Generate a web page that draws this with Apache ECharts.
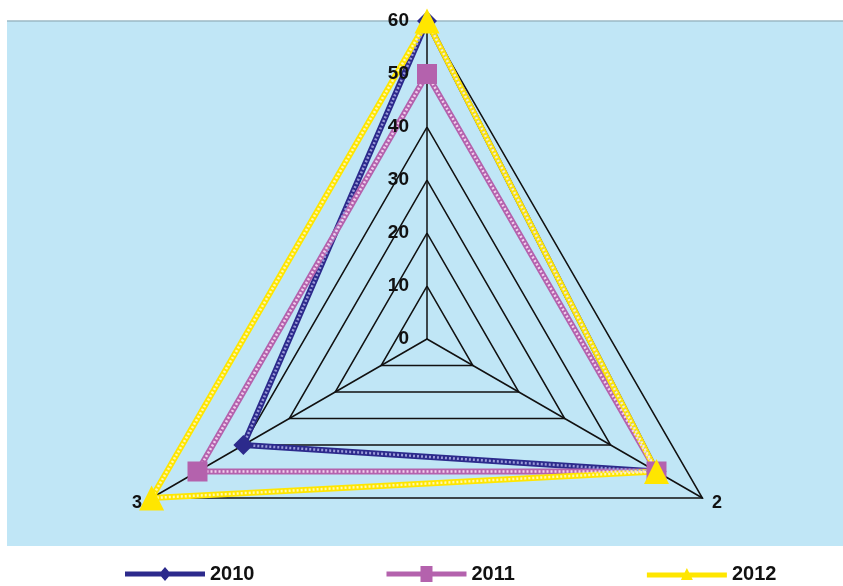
<!DOCTYPE html>
<html>
<head>
<meta charset="utf-8">
<script src="https://cdn.jsdelivr.net/npm/echarts@6/dist/echarts.min.js"></script>
<style>
  html, body { margin: 0; padding: 0; background: #ffffff; }
  #chart { width: 843px; height: 586px; }
</style>
</head>
<body>
<div id="chart"></div>
<script>
// Radar axes (categories) and tick labels
const categories = ['1', '2', '3'];
const axisMax = 60;
const tickStep = 10;

// Series values, one per category in the order above
const years = ['2010', '2011', '2012'];
const values2010 = [60, 50, 40];
const values2011 = [50, 50, 50];
const values2012 = [60, 50, 60];

// Axis 1 at the top, then counter-clockwise: axis 3 bottom-left, axis 2 bottom-right
const axisOrder = [0, 2, 1];
const reorder = arr => axisOrder.map(i => arr[i]);

// Legend icons: a band with the series marker in its middle (80 x 16 box)
const BAND = 'M0 5.5 L80 5.5 L80 10.5 L0 10.5 Z ';
const legendIcons = {
  diamond: 'path://' + BAND + 'M40 1 L46 8 L40 15 L34 8 Z',
  rect: 'path://' + BAND + 'M34 0 L46 0 L46 16 L34 16 Z',
  triangle: 'path://' + BAND + 'M40 1 L46 13 L34 13 Z'
};

const styles = [
  { name: years[0], values: values2010, base: '#2c2a8c', dash: '#9a9ad8', symbol: 'diamond', size: 20 },
  { name: years[1], values: values2011, base: '#b462ad', dash: '#f3cfee', symbol: 'rect', size: 20 },
  { name: years[2], values: values2012, base: '#ffe600', dash: '#fff7b0', symbol: 'triangle', size: 25 }
];

const center = [427, 339];
const radius = 318;
const labelFont = { color: '#111', fontFamily: 'Liberation Sans', fontWeight: 'bold' };

// grid radar: rings, spokes and the axis names
const gridIndicator = axisOrder.map(i => ({ name: categories[i], min: 0, max: axisMax }));
// label radar: same geometry, only the tick labels on the top axis, drawn above the series
const labelIndicator = axisOrder.map((i, k) => ({
  name: categories[i], min: 0, max: axisMax,
  axisLabel: { show: k === 0 }
}));

const series = [];
styles.forEach(s => {
  // solid coloured band
  series.push({
    type: 'radar',
    radarIndex: 0,
    name: s.name,
    symbol: 'none',
    lineStyle: { color: s.base, width: 6 },
    itemStyle: { color: s.base },
    z: 3,
    data: [{ value: reorder(s.values), name: s.name }]
  });
  // lighter chain pattern on top, with the markers
  series.push({
    type: 'radar',
    radarIndex: 0,
    name: s.name,
    symbol: s.symbol,
    symbolSize: s.size,
    lineStyle: { color: s.dash, width: 2.5, type: [2, 2] },
    itemStyle: { color: s.base, borderWidth: 0 },
    z: 4,
    data: [{ value: reorder(s.values), name: s.name }]
  });
});

const chart = echarts.init(document.getElementById('chart'));
chart.setOption({
  animation: false,
  backgroundColor: '#ffffff',
  graphic: [
    {
      type: 'rect', z: -10, silent: true,
      shape: { x: 7, y: 21, width: 836, height: 525 },
      style: { fill: '#c0e6f6' }
    },
    {
      type: 'line', z: -9, silent: true,
      shape: { x1: 7, y1: 21, x2: 843, y2: 21 },
      style: { stroke: '#9bb8c4', lineWidth: 1.5 }
    }
  ],
  legend: {
    bottom: 2,
    left: 125,
    padding: 0,
    itemWidth: 80,
    itemHeight: 16,
    itemGap: 132,
    data: styles.map(s => ({ name: s.name, icon: legendIcons[s.symbol] })),
    textStyle: Object.assign({ fontSize: 20 }, labelFont)
  },
  radar: [
    {
      center: center,
      radius: radius,
      startAngle: 90,
      shape: 'polygon',
      splitNumber: axisMax / tickStep,
      indicator: gridIndicator,
      z: 2,
      axisName: Object.assign({ fontSize: 18, formatter: v => (v === '1' ? '' : v) }, labelFont),
      nameGap: 11,
      axisLine: { lineStyle: { color: '#111', width: 1.5 } },
      splitLine: { lineStyle: { color: '#111', width: 1.5 } },
      splitArea: { show: false },
      axisTick: { show: false },
      axisLabel: { show: false }
    },
    {
      center: center,
      radius: radius,
      startAngle: 90,
      shape: 'polygon',
      splitNumber: axisMax / tickStep,
      indicator: labelIndicator,
      z: 10,
      axisName: { show: false },
      axisLine: { show: false },
      splitLine: { show: false },
      splitArea: { show: false },
      axisTick: { show: false },
      axisLabel: Object.assign({ fontSize: 19, margin: 18 }, labelFont)
    }
  ],
  series: series
});
</script>
</body>
</html>
